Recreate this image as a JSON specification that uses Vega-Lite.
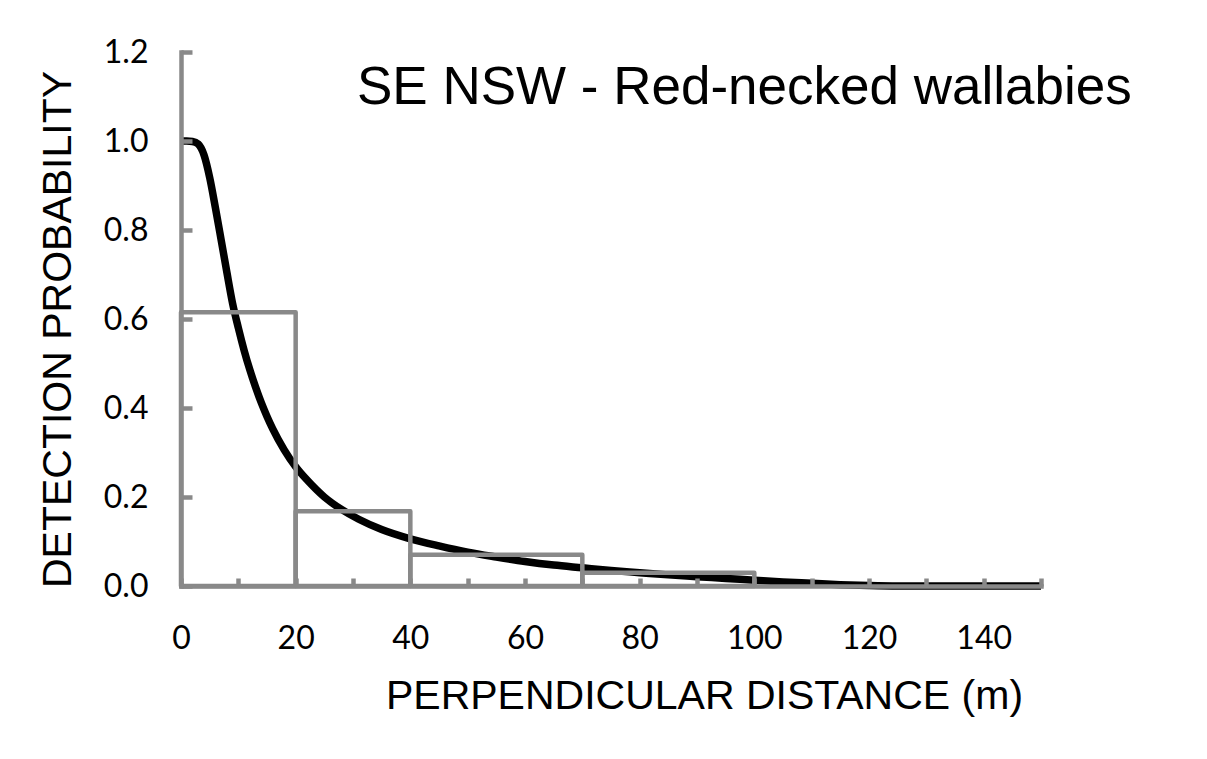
{
  "$schema": "https://vega.github.io/schema/vega-lite/v6.json",
  "width": 860,
  "height": 534,
  "autosize": "none",
  "padding": {"left": 181, "top": 52, "right": 166, "bottom": 173},
  "background": "white",
  "config": {"view": {"stroke": null}},
  "title": {
    "text": "SE NSW - Red-necked wallabies",
    "font": "Liberation Sans",
    "fontSize": 53,
    "fontWeight": "normal",
    "color": "black",
    "anchor": "start",
    "frame": "group",
    "baseline": "alphabetic",
    "offset": 0,
    "dx": 176,
    "dy": 121
  },
  "datasets": {
    "curve": [
      {"distance": 0, "probability": 1.0},
      {"distance": 1, "probability": 1.0},
      {"distance": 2, "probability": 0.999},
      {"distance": 3, "probability": 0.993},
      {"distance": 4, "probability": 0.969},
      {"distance": 5, "probability": 0.918},
      {"distance": 6, "probability": 0.85},
      {"distance": 7, "probability": 0.778},
      {"distance": 8, "probability": 0.705},
      {"distance": 9, "probability": 0.635},
      {"distance": 10, "probability": 0.58},
      {"distance": 11, "probability": 0.53},
      {"distance": 12, "probability": 0.486},
      {"distance": 13, "probability": 0.447},
      {"distance": 14, "probability": 0.412},
      {"distance": 15, "probability": 0.381},
      {"distance": 16, "probability": 0.353},
      {"distance": 18, "probability": 0.306},
      {"distance": 20, "probability": 0.268},
      {"distance": 22, "probability": 0.238},
      {"distance": 25, "probability": 0.2},
      {"distance": 28, "probability": 0.172},
      {"distance": 31, "probability": 0.15},
      {"distance": 35, "probability": 0.127},
      {"distance": 40, "probability": 0.106},
      {"distance": 45, "probability": 0.09},
      {"distance": 50, "probability": 0.076},
      {"distance": 55, "probability": 0.065},
      {"distance": 60, "probability": 0.055},
      {"distance": 65, "probability": 0.047},
      {"distance": 70, "probability": 0.041},
      {"distance": 75, "probability": 0.035},
      {"distance": 80, "probability": 0.03},
      {"distance": 85, "probability": 0.025},
      {"distance": 90, "probability": 0.021},
      {"distance": 95, "probability": 0.017},
      {"distance": 100, "probability": 0.013},
      {"distance": 105, "probability": 0.009},
      {"distance": 110, "probability": 0.006},
      {"distance": 115, "probability": 0.003},
      {"distance": 120, "probability": 0.001},
      {"distance": 125, "probability": 0.0},
      {"distance": 150, "probability": 0.0}
    ],
    "hist": [
      {"bin_start": 0, "bin_end": 20, "proportion": 0.615},
      {"bin_start": 20, "bin_end": 40, "proportion": 0.168},
      {"bin_start": 40, "bin_end": 70, "proportion": 0.07},
      {"bin_start": 70, "bin_end": 100, "proportion": 0.03}
    ]
  },
  "layer": [
    {
      "data": {"name": "curve"},
      "mark": {"type": "line", "color": "black", "strokeWidth": 7.5, "interpolate": "monotone", "strokeCap": "butt"},
      "encoding": {
        "x": {
          "field": "distance",
          "type": "quantitative",
          "scale": {"domain": [0, 150], "nice": false, "zero": true},
          "axis": {
            "values": [0, 10, 20, 30, 40, 50, 60, 70, 80, 90, 100, 110, 120, 130, 140, 150],
            "labelExpr": "datum.value % 20 === 0 && datum.value < 150 ? datum.label : ''",
            "grid": false,
            "tickSize": -8,
            "tickWidth": 4.5,
            "tickColor": "#898989",
            "domainColor": "#898989",
            "domainWidth": 4.5,
            "domainCap": "square",
            "labelFont": "Lato",
            "labelFontSize": 32,
            "labelColor": "black",
            "labelBaseline": "alphabetic",
            "labelPadding": 70,
            "labelFlush": false,
            "labelOverlap": false,
            "title": "PERPENDICULAR DISTANCE (m)",
            "titleFont": "Liberation Sans",
            "titleFontSize": 41,
            "titleFontWeight": "normal",
            "titleColor": "black",
            "titleX": 523,
            "titleY": 122,
            "titleAlign": "center",
            "titleBaseline": "alphabetic",
            "zindex": 1
          }
        },
        "y": {
          "field": "probability",
          "type": "quantitative",
          "scale": {"domain": [0, 1.2], "nice": false},
          "axis": {
            "values": [0, 0.2, 0.4, 0.6, 0.8, 1.0, 1.2],
            "format": ".1f",
            "grid": false,
            "tickSize": -11,
            "tickWidth": 4.5,
            "tickColor": "#898989",
            "domainColor": "#898989",
            "domainWidth": 4.5,
            "domainCap": "square",
            "labelFont": "Lato",
            "labelFontSize": 32,
            "labelColor": "black",
            "labelBaseline": "middle",
            "labelPadding": 44,
            "labelFlush": false,
            "labelOverlap": false,
            "title": "DETECTION PROBABILITY",
            "titleFont": "Liberation Sans",
            "titleFontSize": 41,
            "titleFontWeight": "normal",
            "titleColor": "black",
            "titleAngle": -90,
            "titleX": -111,
            "titleY": 277,
            "titleAlign": "center",
            "titleBaseline": "alphabetic",
            "zindex": 1
          }
        }
      }
    },
    {
      "data": {"name": "hist"},
      "mark": {"type": "rect", "filled": false, "stroke": "#898989", "strokeWidth": 4.5, "strokeJoin": "round"},
      "encoding": {
        "x": {"field": "bin_start", "type": "quantitative"},
        "x2": {"field": "bin_end"},
        "y": {"field": "proportion", "type": "quantitative"},
        "y2": {"datum": 0}
      }
    }
  ]
}
